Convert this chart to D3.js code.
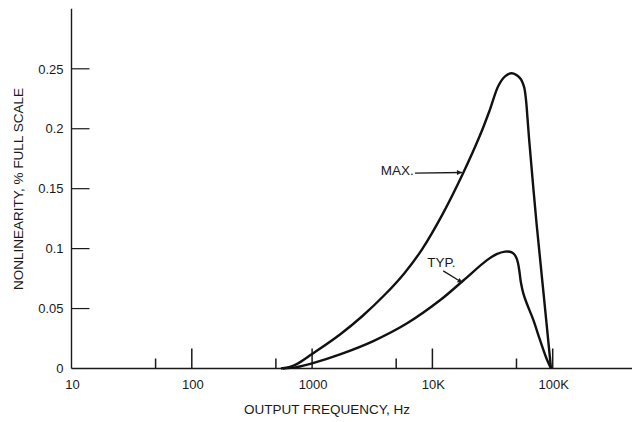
<!DOCTYPE html>
<html>
<head>
<meta charset="utf-8">
<script src="https://cdn.jsdelivr.net/npm/d3@7/dist/d3.min.js"></script>
<style>
  html, body { margin: 0; padding: 0; background: #fff; }
  svg { display: block; }
  text { font-family: "Liberation Sans", Arial, Helvetica, sans-serif; fill: #1a1a1a; }
</style>
</head>
<body>
<svg id="chart" width="632" height="422"></svg>
<script>
// ---- data (frequency in Hz, nonlinearity in % full scale) ----
const maxFreq = [551, 655, 745, 1000, 1706, 2624, 4036, 5807, 8150, 12130, 18070, 24880, 30130, 35300, 40150, 45650, 53480, 57720, 59970, 61720, 63540, 73620, 84700, 96800];
const maxVal  = [0, 0.0014, 0.0036, 0.0121, 0.0284, 0.0438, 0.0617, 0.0791, 0.099, 0.1286, 0.1633, 0.1945, 0.2162, 0.2357, 0.2437, 0.2463, 0.2422, 0.2351, 0.2241, 0.209, 0.1923, 0.1197, 0.0588, 0];

const typFreq = [573, 745, 1000, 1706, 3227, 6113, 11560, 18070, 28250, 34200, 40150, 44160, 47030, 49550, 51460, 52970, 54520, 56980, 60810, 69000, 78400, 89200, 96800];
const typVal  = [0, 0.0012, 0.0043, 0.0118, 0.0229, 0.0375, 0.0569, 0.0734, 0.0902, 0.0954, 0.0975, 0.0974, 0.096, 0.093, 0.088, 0.0805, 0.0713, 0.0627, 0.0544, 0.0405, 0.0238, 0.0079, 0];

const yTicks = [0.05, 0.1, 0.15, 0.2, 0.25];
const yTickLabels = ["0.05", "0.1", "0.15", "0.2", "0.25"];
const xMajorTicks = [100, 1000, 10000, 100000];
const xMinorTicks = [50, 500, 5000, 50000];
const xLabelValues = [10, 100, 1000, 10000, 100000];
const xLabelTexts = ["10", "100", "1000", "10K", "100K"];

const yTitle = "NONLINEARITY, % FULL SCALE";
const xTitle = "OUTPUT FREQUENCY, Hz";

// annotations: label, text anchor point (f, v), arrow start (f, v), arrow end (f, v)
const annMax = { label: "MAX.", text: [7000, 0.161], from: [7160, 0.163], to: [17600, 0.1635] };
const annTyp = { label: "TYP.", text: [11900, 0.0845], from: [12300, 0.0814], to: [17800, 0.0715] };

// ---- layout ----
const svg = d3.select("#chart");
const W = 632;
const x = d3.scaleLog().domain([10, 100000]).range([71.5, 552.7]);
const y = d3.scaleLinear().domain([0, 0.25]).range([368.5, 68.8]);
const xEnd = x.invert(W);
const yTop = 0.3;

const ink = "#1a1a1a";

// axes lines
svg.append("line")
  .attr("x1", x(10)).attr("x2", x(10))
  .attr("y1", y(0)).attr("y2", y(yTop))
  .attr("stroke", ink).attr("stroke-width", 1.4);
svg.append("line")
  .attr("x1", x(10)).attr("x2", x(xEnd))
  .attr("y1", y(0)).attr("y2", y(0))
  .attr("stroke", ink).attr("stroke-width", 1.4);

// y ticks (pointing right)
svg.selectAll(".ytick").data(yTicks).enter().append("line")
  .attr("x1", x(10)).attr("x2", x(10) + 18)
  .attr("y1", d => y(d)).attr("y2", d => y(d))
  .attr("stroke", ink).attr("stroke-width", 1.2);
svg.selectAll(".ylab").data(yTicks).enter().append("text")
  .attr("x", x(10) - 8).attr("y", d => y(d) + 4.7)
  .attr("text-anchor", "end").attr("font-size", 13)
  .text((d, i) => yTickLabels[i]);
svg.append("text")
  .attr("x", x(10) - 8).attr("y", y(0) + 4.7)
  .attr("text-anchor", "end").attr("font-size", 13).text("0");

// x ticks
svg.selectAll(".xmaj").data(xMajorTicks).enter().append("line")
  .attr("x1", d => x(d)).attr("x2", d => x(d))
  .attr("y1", y(0)).attr("y2", y(0) - 20)
  .attr("stroke", ink).attr("stroke-width", 1.5);
svg.selectAll(".xmin").data(xMinorTicks).enter().append("line")
  .attr("x1", d => x(d)).attr("x2", d => x(d))
  .attr("y1", y(0)).attr("y2", y(0) - 10)
  .attr("stroke", ink).attr("stroke-width", 1.5);
svg.selectAll(".xlab").data(xLabelValues).enter().append("text")
  .attr("x", d => x(d) + 1).attr("y", y(0) + 20)
  .attr("text-anchor", "middle").attr("font-size", 13)
  .text((d, i) => xLabelTexts[i]);

// titles
svg.append("text")
  .attr("x", 327).attr("y", 414)
  .attr("text-anchor", "middle").attr("font-size", 13.5)
  .text(xTitle);
svg.append("text")
  .attr("transform", "translate(23,189) rotate(-90)")
  .attr("text-anchor", "middle").attr("font-size", 13.5)
  .text(yTitle);

// curves
const line = d3.line()
  .x(d => x(d[0])).y(d => y(d[1]))
  .curve(d3.curveCatmullRom.alpha(0.5));
const maxData = maxFreq.map((f, i) => [f, maxVal[i]]);
const typData = typFreq.map((f, i) => [f, typVal[i]]);
[maxData, typData].forEach(data => {
  svg.append("path").datum(data)
    .attr("d", line)
    .attr("fill", "none").attr("stroke", "#111")
    .attr("stroke-width", 2.4).attr("stroke-linejoin", "round");
});

// arrow marker
svg.append("defs").append("marker")
  .attr("id", "arr").attr("viewBox", "0 0 10 10")
  .attr("refX", 10).attr("refY", 5)
  .attr("markerWidth", 10).attr("markerHeight", 5)
  .attr("markerUnits", "userSpaceOnUse")
  .attr("orient", "auto")
  .append("path").attr("d", "M0,0 L10,5 L0,10 z").attr("fill", ink);

[annMax, annTyp].forEach((a, k) => {
  svg.append("line")
    .attr("x1", x(a.from[0])).attr("y1", y(a.from[1]))
    .attr("x2", x(a.to[0])).attr("y2", y(a.to[1]))
    .attr("stroke", ink).attr("stroke-width", 1.3)
    .attr("marker-end", "url(#arr)");
  svg.append("text")
    .attr("x", x(a.text[0])).attr("y", y(a.text[1]))
    .attr("text-anchor", k === 0 ? "end" : "middle")
    .attr("font-size", 13.5)
    .text(a.label);
});
</script>
</body>
</html>
